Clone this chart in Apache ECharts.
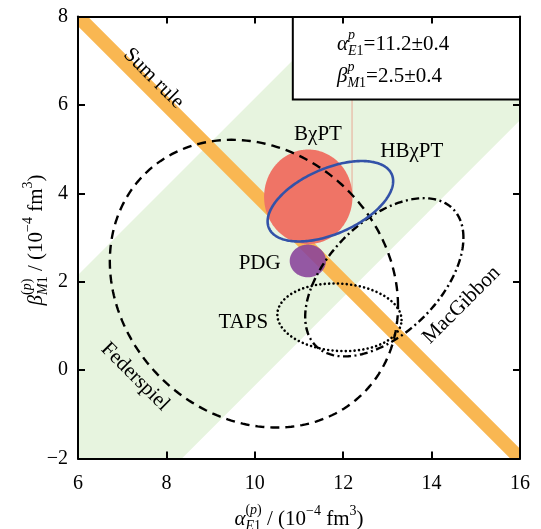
<!DOCTYPE html>
<html><head><meta charset="utf-8">
<script src="https://cdn.jsdelivr.net/npm/echarts@6/dist/echarts.min.js"></script>
<style>html,body{margin:0;padding:0;background:#fff}#c{width:541px;height:529px}</style>
</head><body><div id="c"></div>
<script>
const FONT = '"Liberation Serif", "Times New Roman", serif';
// axes
const xRange = [6, 16];
const yRange = [-2, 8];
const tickStep = 2;
// bands
const sumRule = [13.78, 14.22];   // alpha + beta
const diffBand = [3.85, 10.35];   // alpha - beta
// ellipses: centre, half-widths, correlation
const ellNames = ['BχPT', 'PDG', 'HBχPT', 'Federspiel', 'MacGibbon', 'TAPS'];
const ellCx  = [11.21, 11.20, 11.71, 9.98, 12.93, 11.915];
const ellCy  = [3.92, 2.47, 3.82, 1.955, 2.10, 1.195];
const ellRx  = [1.00, 0.41, 1.42, 3.26, 1.79, 1.405];
const ellRy  = [1.07, 0.37, 0.91, 3.255, 1.79, 0.765];
const ellRho = [0, 0, 0.5, -0.155, 0.5, -0.08];
// in-plot labels
const labelText = ['Sum rule', 'BχPT', 'HBχPT', 'PDG', 'TAPS', 'MacGibbon', 'Federspiel'];
const labelX = [7.71, 11.43, 13.55, 10.11, 9.74, 14.68, 7.29];
const labelY = [6.60, 5.34, 4.94, 2.42, 1.08, 1.47, -0.15];
const labelRot = [-45, 0, 0, 0, 0, 45, -45];
// thin vertical stroke
const thinX = 12.2, thinY = [3.95, 8];
// result box
const boxX = [10.86, 16], boxY = [6.12, 8];

const ellStyle = {
  'BχPT': {fill: '#EF7466', blend: 'multiply'},
  'PDG': {fill: 'rgba(137,66,155,0.88)'},
  'HBχPT': {fill: 'none', stroke: '#3352A8', lineWidth: 2.6},
  'Federspiel': {fill: 'none', stroke: '#000', lineWidth: 2.4, lineDash: [9, 6]},
  'MacGibbon': {fill: 'none', stroke: '#000', lineWidth: 2.4, lineDash: [8, 3.5, 2, 3.5]},
  'TAPS': {fill: 'none', stroke: '#000', lineWidth: 2.6, lineDash: [0.01, 4.4], lineCap: 'round'}
};
const ellZ = {'BχPT': 3, 'PDG': 4, 'HBχPT': 6, 'Federspiel': 5, 'MacGibbon': 5, 'TAPS': 5};

function ellipsePts(i, n) {
  const pts = [];
  const s = Math.sqrt(1 - ellRho[i] * ellRho[i]);
  for (let k = 0; k < n; k++) {
    const t = 2 * Math.PI * k / n;
    pts.push([ellCx[i] + ellRx[i] * Math.cos(t),
              ellCy[i] + ellRy[i] * (ellRho[i] * Math.cos(t) + s * Math.sin(t))]);
  }
  return pts;
}
function shapeSeries(pts, style, z, type) {
  return {
    type: 'custom', coordinateSystem: 'cartesian2d', clip: true, silent: true, z: z,
    data: [[pts[0][0], pts[0][1]]],
    renderItem: function (p, api) {
      return {type: type || 'polygon', shape: {points: pts.map(q => api.coord(q))}, style: style};
    }
  };
}

const series = [];
series.push(shapeSeries([[0, 0 - diffBand[0]], [22, 22 - diffBand[0]], [22, 22 - diffBand[1]], [0, 0 - diffBand[1]]],
  {fill: '#E7F4DF'}, 1));
series.push(shapeSeries([[3, sumRule[0] - 3], [19, sumRule[0] - 19], [19, sumRule[1] - 19], [3, sumRule[1] - 3]],
  {fill: '#F9B752'}, 2));
ellNames.forEach((n, i) => series.push(shapeSeries(ellipsePts(i, 240), ellStyle[n], ellZ[n])));
series.push(shapeSeries([[thinX, thinY[0]], [thinX, thinY[1]]], {stroke: 'rgba(236,120,100,0.6)', lineWidth: 1, fill: 'none'}, 4, 'polyline'));
series.push(shapeSeries([[boxX[0], boxY[0]], [boxX[1], boxY[0]], [boxX[1], boxY[1]], [boxX[0], boxY[1]]],
  {fill: '#fff', stroke: '#000', lineWidth: 2}, 8));
series.push({
  type: 'custom', coordinateSystem: 'cartesian2d', clip: false, silent: true, z: 7,
  data: labelText.map((t, i) => [labelX[i], labelY[i]]),
  renderItem: function (p, api) {
    const i = p.dataIndex;
    const c = api.coord([labelX[i], labelY[i]]);
    return {type: 'text', x: c[0], y: c[1], rotation: labelRot[i] * Math.PI / 180,
      style: {text: labelText[i], font: '21px ' + FONT, fill: '#000',
        align: 'center', verticalAlign: 'middle', textAlign: 'center', textVerticalAlign: 'middle'}};
  }
});

const mctx = document.createElement('canvas').getContext('2d');
function fnt(it, size) { return (it ? 'italic ' : '') + size + 'px ' + FONT; }
function tw(t, it, size) { mctx.font = fnt(it, size); return mctx.measureText(t).width; }
function mathText(tokens, ox, oy, rot, center, z) {
  let x = 0, lastStart = 0;
  const items = [];
  tokens.forEach(tok => {
    const start = tok.stack ? lastStart : x;
    let cx = start;
    tok.p.forEach(pt => {
      items.push({t: pt[0], it: pt[1], s: tok.s, x: cx, y: tok.dy || 0});
      cx += tw(pt[0], pt[1], tok.s);
    });
    if (tok.stack) x = Math.max(x, cx); else { lastStart = start; x = cx; }
  });
  const off = center ? -x / 2 : 0;
  return {
    type: 'group', x: ox, y: oy, rotation: rot, z: z,
    children: items.map(it => ({type: 'text', x: it.x + off, y: it.y, z: z,
      style: {text: it.t, font: fnt(it.it, it.s), fill: '#000', align: 'left', verticalAlign: 'middle',
        textAlign: 'left', textVerticalAlign: 'middle'}}))
  };
}
const xTitle = [
  {p: [['α', 1]], s: 21},
  {p: [['(', 0], ['p', 1], [')', 0]], s: 14, dy: -9},
  {p: [['E', 1], ['1', 0]], s: 14, dy: 7, stack: true},
  {p: [[' / (10', 0]], s: 21},
  {p: [['−4', 0]], s: 14, dy: -8},
  {p: [[' fm', 0]], s: 21},
  {p: [['3', 0]], s: 14, dy: -8},
  {p: [[')', 0]], s: 21}
];
const yTitle = [
  {p: [['β', 1]], s: 21},
  {p: [['(', 0], ['p', 1], [')', 0]], s: 14, dy: -9},
  {p: [['M', 1], ['1', 0]], s: 14, dy: 7, stack: true},
  {p: [[' / (10', 0]], s: 21},
  {p: [['−4', 0]], s: 14, dy: -8},
  {p: [[' fm', 0]], s: 21},
  {p: [['3', 0]], s: 14, dy: -8},
  {p: [[')', 0]], s: 21}
];
const box1 = [
  {p: [['α', 1]], s: 21},
  {p: [['p', 1]], s: 14, dy: -9},
  {p: [['E', 1], ['1', 0]], s: 14, dy: 7, stack: true},
  {p: [['=11.2±0.4', 0]], s: 21}
];
const box2 = [
  {p: [['β', 1]], s: 21},
  {p: [['p', 1]], s: 14, dy: -9},
  {p: [['M', 1], ['1', 0]], s: 14, dy: 7, stack: true},
  {p: [['=2.5±0.4', 0]], s: 21}
];

const fmt = v => (v < 0 ? '−' + Math.abs(v) : String(v));
const axCommon = {
  type: 'value', interval: tickStep, z: 10,
  axisLine: {show: true, onZero: false, lineStyle: {color: '#000', width: 2}},
  axisTick: {show: true, inside: true, length: 7, lineStyle: {color: '#000', width: 2}},
  splitLine: {show: false}
};
const option = {
  animation: false,
  backgroundColor: '#fff',
  grid: {left: 78, top: 16.5, width: 442, height: 442},
  xAxis: [
    Object.assign({}, axCommon, {min: xRange[0], max: xRange[1], position: 'bottom',
      axisLabel: {color: '#000', fontSize: 20, fontFamily: FONT, margin: 15, formatter: fmt}}),
    Object.assign({}, axCommon, {min: xRange[0], max: xRange[1], position: 'top', axisLabel: {show: false}})
  ],
  yAxis: [
    Object.assign({}, axCommon, {min: yRange[0], max: yRange[1], position: 'left',
      axisLabel: {color: '#000', fontSize: 20, fontFamily: FONT, margin: 10, formatter: fmt}}),
    Object.assign({}, axCommon, {min: yRange[0], max: yRange[1], position: 'right', axisLabel: {show: false}})
  ],
  series: series,
  graphic: [
    mathText(xTitle, 299, 519, 0, true, 100),
    mathText(yTitle, 36, 240, Math.PI / 2, true, 100),
    mathText(box1, 337, 44, 0, false, 100),
    mathText(box2, 337, 76, 0, false, 100)
  ]
};
const chart = echarts.init(document.getElementById('c'));
chart.setOption(option);
</script></body></html>
